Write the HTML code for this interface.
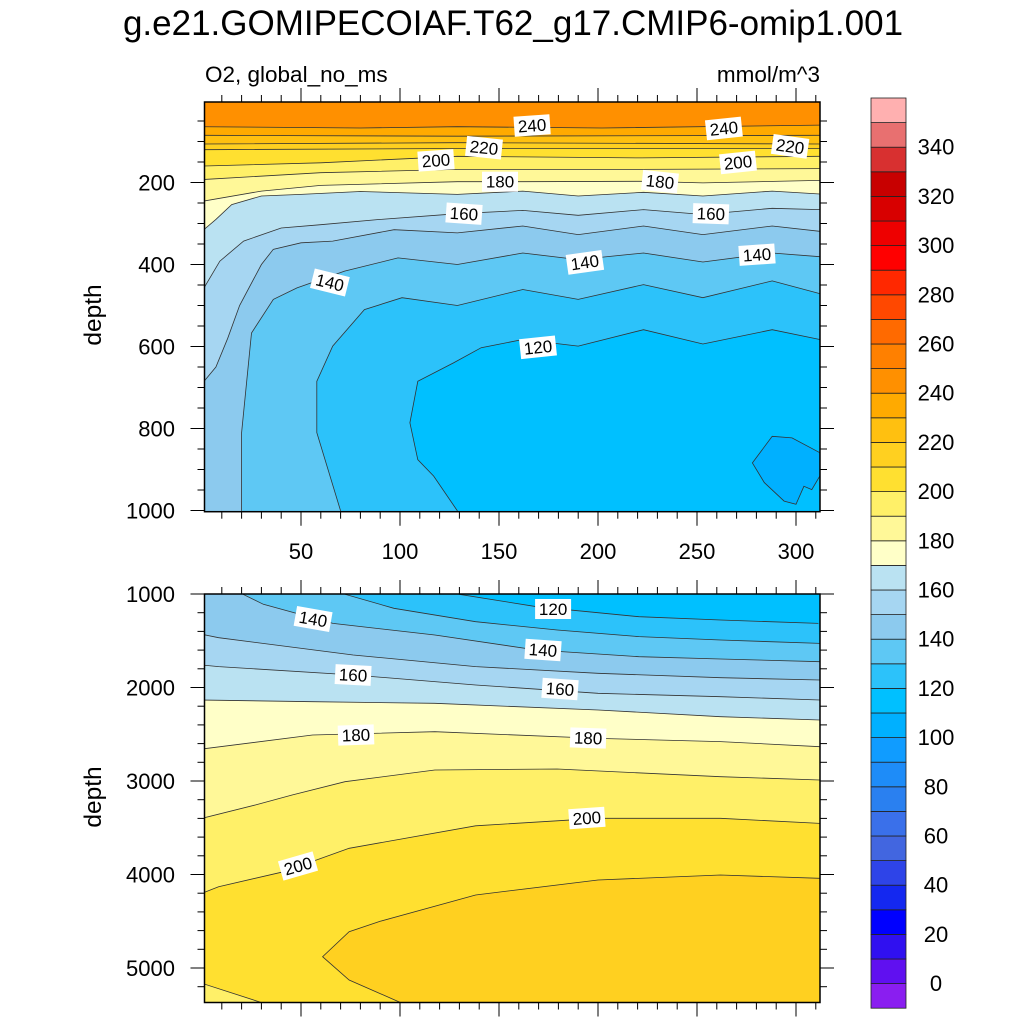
<!DOCTYPE html>
<html><head><meta charset="utf-8"><style>
body{margin:0;background:#fff;}
svg{display:block;font-family:"Liberation Sans",sans-serif;}
</style></head><body>
<svg id="chart" width="1024" height="1024" viewBox="0 0 1024 1024" xmlns="http://www.w3.org/2000/svg">
<text x="513" y="35" font-size="35" text-anchor="middle">g.e21.GOMIPECOIAF.T62_g17.CMIP6-omip1.001</text>
<text x="205" y="82" font-size="22.5">O2, global_no_ms</text>
<text x="820" y="82" font-size="22.5" text-anchor="end">mmol/m^3</text>
<text transform="translate(101,315) rotate(-90)" font-size="24.5" text-anchor="middle">depth</text>
<text transform="translate(101,797) rotate(-90)" font-size="24.5" text-anchor="middle">depth</text>
<defs>
<clipPath id="clipTop"><rect x="204.5" y="102" width="615.5" height="409.7"/></clipPath>
<clipPath id="clipBot"><rect x="204.5" y="594" width="615.5" height="408.5"/></clipPath>
</defs>
<g id="topFills" clip-path="url(#clipTop)"></g>
<g id="botFills" clip-path="url(#clipBot)"></g>
<g id="axes"></g>
<g id="labels"></g>
<g id="cbar"></g>
</svg>
<script>
// colour bands from -10 upward in steps of 10
const bandColors = ["#8a1ef0","#6010f0","#3010f0","#0000ff","#1428f0","#2e44e8","#4266e0","#3a70ea","#2a80f0","#1e8cf8","#109cff","#00b0ff","#00c0ff","#2cc2fa","#5ec8f4","#8ccaee","#a6d6f2","#bae2f2","#ffffc8","#fff898","#fff068","#ffe030","#ffd020","#ffc010","#ffaa00","#ff9000","#ff8000","#ff6a00","#ff4800","#ff2800","#ff0000","#ee0000","#d80000","#c80000","#d83030","#e87070","#ffb0b0"];
const cbarTicks = [0,20,40,60,80,100,120,140,160,180,200,220,240,260,280,300,320,340];
const xTicks = [50,100,150,200,250,300];
const topYTicks = [200,400,600,800,1000];
const botYTicks = [1000,2000,3000,4000,5000];

// top panel contour lines [x, depth]
const top240 = [[0,64],[80,67],[129,64],[202,67],[312,60]];
const top230 = [[0,85],[129,87],[312,85]];
const top220 = [[0,106],[129,103],[312,106]];
const top210 = [[0,120],[129,117],[312,117]];
const top200 = [[0,160],[60,152],[129,136],[222,140],[312,136]];
const top190 = [[0,193],[60,176],[129,168],[222,168],[312,166]];
const top180 = [[0,246],[30,221],[60,207],[129,198],[162,198],[222,197],[253,201],[312,195]];
const top170 = [[0,319],[7,290],[15,254],[30,233],[50,229],[80,222],[129,229],[162,221],[190,233],[223,224],[253,233],[288,221],[312,228]];
const top160 = [[1,457],[9,392],[21,343],[40,311],[60,303],[90,290],[129,276],[162,268],[190,280],[223,266],[253,278],[288,263],[312,266]];
const top150 = [[1,685],[7,650],[13,580],[19,500],[30,400],[36,363],[50,347],[66,343],[97,315],[129,323],[162,306],[190,327],[223,306],[253,327],[288,306],[312,319]];
const top140 = [[20,1001],[20,810],[25,567],[36,485],[48,457],[72,416],[99,384],[129,400],[162,372],[190,388],[223,372],[253,394],[288,372],[312,381]];
const top130 = [[70,1001],[58,810],[58,685],[66,599],[82,510],[101,481],[129,500],[162,461],[190,485],[223,449],[253,481],[288,440],[312,471]];
const top120 = [[129,1001],[117,916],[109,876],[105,786],[109,685],[127,640],[141,603],[162,583],[190,599],[223,559],[253,594],[288,559],[312,583]];
const top110 = [[312,859],[298,823],[288,819],[278,884],[284,932],[294,977],[300,985],[304,941],[308,949],[312,916]];
const topLevels = [240,230,220,210,200,190,180,170,160,150,140,130,120,110];
const topLines = [top240,top230,top220,top210,top200,top190,top180,top170,top160,top150,top140,top130,top120,top110];

// bottom panel contour lines [x, depth]
const bot120 = [[129.9,1003],[169,1136],[220.6,1243],[261.8,1278],[311.3,1314]];
const bot130 = [[72.2,1003],[96.9,1153],[138.2,1296],[179.4,1385],[220.6,1456],[261.8,1492],[312,1528]];
const bot140 = [[20.7,1003],[31,1110],[66.1,1314],[117.6,1439],[169,1599],[220.6,1671],[261.8,1695],[312,1724]];
const bot150 = [[0,1431],[8.4,1467],[76.3,1652],[138.2,1777],[200,1848],[261.8,1895],[312,1920]];
const bot160 = [[0,1759],[8.4,1777],[76.3,1866],[138.2,1973],[200,2062],[261.8,2098],[312,2134]];
const bot170 = [[0,2134],[55.8,2152],[117.6,2169],[200,2241],[261.8,2312],[312,2348]];
const bot180 = [[0,2658],[55.8,2508],[117.6,2473],[200,2544],[261.8,2579],[312,2633]];
const bot190 = [[0,3399],[26.9,3257],[45.5,3150],[72.2,3007],[117.6,2882],[179.4,2872],[261.8,2954],[312,2989]];
const bot200 = [[0,4201],[8.4,4130],[41.3,3970],[74.3,3720],[138.2,3479],[200,3399],[261.8,3399],[312,3453]];
const bot210 = [[101,5377],[74.3,5128],[60.9,4879],[74.3,4612],[90,4500],[138.2,4219],[200,4059],[261.8,4005],[312,4041]];
const bot200b = [[0,5164],[31,5377]];
const botLevels = [120,130,140,150,160,170,180,190,200,210];
const botLines = [bot120,bot130,bot140,bot150,bot160,bot170,bot180,bot190,bot200,bot210];

// label positions
const topLabelVals = [240,240,220,220,200,200,180,180,160,160,140,140,140,120];
const topLabelX = [166.7,263.6,142.4,297,118.2,270.7,150.5,231.3,132.3,257,64.6,193.4,280.3,169.7];
const topLabelD = [61,68,115,112,146,151,198,198,276,276,444,395,376,602];
const topLabelRot = [-4,-6,6,8,-4,-6,0,6,4,2,14,-8,-4,-6];
const botLabelVals = [120,140,140,160,160,180,180,200,200];
const botLabelX = [177.3,56.1,172.2,76.3,180.8,77.8,195,194.4,48.5];
const botLabelD = [1160,1267,1599,1866,2016,2508,2540,3396,3909];
const botLabelRot = [0,10,4,3,4,-2,2,-4,-16];

const NS = "http://www.w3.org/2000/svg";
const X = x => 202 + x*1.98;
const Y1 = d => 100.5 + d*0.41;
const Y2 = d => 594 + (d-1000)*0.0935;
const colorFor = v => bandColors[Math.round((v+10)/10)];
function mk(tag, attrs, parent){const e=document.createElementNS(NS,tag);for(const k in attrs)e.setAttribute(k,attrs[k]);parent.appendChild(e);return e;}
const ptsStr = (arr, Y) => arr.map(p => X(p[0]).toFixed(1)+","+Y(p[1]).toFixed(1)).join(" ");

// top panel
const tf = document.getElementById("topFills");
let r = mk("rect",{x:200,y:95,width:625,height:420,fill:colorFor(240)},tf);


topLines.forEach((line,i)=>{
  const L = topLevels[i];
  let poly = line.slice();
  if (L !== 110) poly = poly.concat([[320,1010],[line[0][0] < 2 ? -5 : line[0][0],1010]]);
  const p = mk("polygon",{points:ptsStr(poly,Y1),fill:colorFor(L-10)},tf);
  
  
});
topLines.forEach((line,i)=>{
  const pl = mk("polyline",{points:ptsStr(topLevels[i]===110?line.concat([line[0]]):line,Y1),fill:"none",stroke:"#333","stroke-width":0.8},tf);
  
  
});

// bottom panel
const bf = document.getElementById("botFills");
r = mk("rect",{x:200,y:590,width:625,height:420,fill:colorFor(110)},bf);


botLines.forEach((line,i)=>{
  const L = botLevels[i];
  let poly = line.slice();
  const topStart = line[0][1] <= 1005;
  if (topStart) poly = [[-5,995],[line[0][0],995]].concat(poly);
  poly = poly.concat([[320,5420],[topStart || line[0][0] < 2 ? -5 : line[0][0],5420]]);
  const p = mk("polygon",{points:ptsStr(poly,Y2),fill:colorFor(L)},bf);
  
  
});
let corner = mk("polygon",{points:ptsStr(bot200b.concat([[31,5420],[-5,5420],[-5,bot200b[0][1]]]),Y2),fill:colorFor(190)},bf);


botLines.concat([bot200b]).forEach((line,i)=>{
  const pl = mk("polyline",{points:ptsStr(line,Y2),fill:"none",stroke:"#333","stroke-width":0.8},bf);
  
  
});

// contour labels
const lg = document.getElementById("labels");
function label(v,x,y,rot,name){
  const g = mk("g",{transform:`translate(${x.toFixed(1)},${y.toFixed(1)}) rotate(${rot})`},lg);
  
  
  mk("rect",{x:-18,y:-10,width:36,height:20,fill:"#fff"},g);
  const t = mk("text",{x:0,y:6,"font-size":17,"text-anchor":"middle"},g);
  t.textContent = v;
}
topLabelVals.forEach((v,i)=>label(v,X(topLabelX[i]),Y1(topLabelD[i]),topLabelRot[i],'top-label-'+v));
botLabelVals.forEach((v,i)=>label(v,X(botLabelX[i]),Y2(botLabelD[i]),botLabelRot[i],'bottom-label-'+v));

// axes
const ax = document.getElementById("axes");
function line(x1,y1,x2,y2,w){mk("line",{x1,y1,x2,y2,stroke:"#000","stroke-width":w||1.2},ax);}
function txt(s,x,y,anchor,name){const t=mk("text",{x,y,"font-size":22,"text-anchor":anchor},ax);t.textContent=s;}
const L0=204.5,R0=820;
[[102,511.7,Y1,50,200,topYTicks,'top'],[594,1002.5,Y2,200,1000,botYTicks,'bottom']].forEach(([t,b,Y,minor,major,yt,nm])=>{
  for(let x=10;x<=310;x+=10){const len = x%50===0?14:7;const px=X(x);
    line(px,t,px,t-len,1); line(px,b,px,b+len,1);}
  const d0 = nm==='top'?50:1000, d1 = nm==='top'?1000:5300;
  for(let d=d0; d<=d1; d+=minor){const py=Y(d); if(py<t-0.5||py>b+0.5) continue; const len=d%major===0?14:7;
    line(L0,py,L0-len,py,1); line(R0,py,R0+len,py,1);}
  mk("rect",{x:L0,y:t,width:R0-L0,height:b-t,fill:"none",stroke:"#000","stroke-width":1.5},ax);
  yt.forEach(v=>txt(String(v),175,Y(v)+8,"end",nm+'-y-tick-'+v));
});
xTicks.forEach(v=>txt(String(v),X(v),559,"middle",'x-tick-'+v));

// colorbar
const cb = document.getElementById("cbar");
const cbTop=98, cbH=24.6, cbX=871, cbW=35;
bandColors.forEach((c,i)=>{
  const y = cbTop + (bandColors.length-1-i)*cbH;
  const rr = mk("rect",{x:cbX,y:y.toFixed(1),width:cbW,height:cbH.toFixed(1),fill:c,stroke:"#222","stroke-width":0.8},cb);
  
  
});
cbarTicks.forEach(v=>{
  const y = cbTop + (360-v)/10*cbH;
  const t = mk("text",{x:936,y:(y+7.5).toFixed(1),"font-size":22,"text-anchor":"middle"},cb);
  t.textContent = v;
  
  
});
</script>
</body></html>
